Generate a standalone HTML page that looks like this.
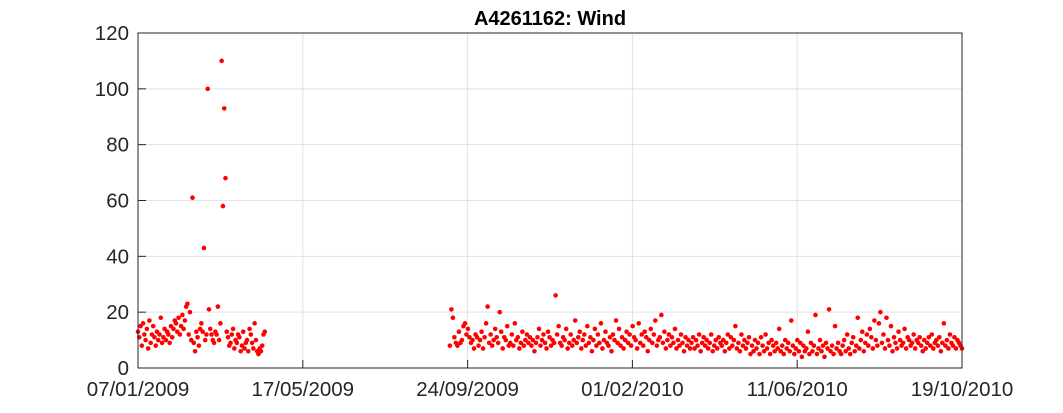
<!DOCTYPE html>
<html><head><meta charset="utf-8"><style>
body{margin:0;background:#fff;width:1063px;height:413px;overflow:hidden}
svg{display:block;font-family:"Liberation Sans",sans-serif}
</style></head><body>
<svg id="chart" width="1063" height="413">
<g id="grid"></g><g id="pts"></g><g id="axes"></g>
</svg>
<script>
const seg1Start=0;
const seg1=[13,11,15,8,16,12,10,14,7,17,9,12,15,11,8,13,10,12,18,9,11,14,10,13,12,9,15,11,14,17,16,13,18,12,15,19,14,17,22,23,12,20,10,61,9,6,13,11,8,14,16,13,43,10,12,100,21,14,12,10,9,13,12,22,10,16,110,58,93,68,13,11,8,9,12,14,7,10,9,12,11,6,8,13,7,9,10,6,14,12,9,7,16,10,6,5,7,6,8,12,13];
const seg2Start=246, seg2End=650;
const seg2=[8,21,18,11,9,8,13,9,10,15,16,12,14,11,9,10,7,12,11,8,
10,13,7,11,16,22,9,12,8,10,14,11,9,20,13,7,11,10,15,8,
9,12,8,16,10,11,7,9,13,8,10,12,9,11,8,10,6,9,11,14,
8,10,12,9,7,13,11,8,10,9,26,12,15,9,8,11,10,14,7,9,
12,8,10,17,9,11,13,7,10,12,8,15,9,11,6,10,14,8,12,9,
16,7,10,13,9,8,11,6,12,10,17,9,14,8,11,7,10,13,9,12,
8,15,11,10,7,16,9,12,8,13,11,6,10,14,9,12,17,8,10,11,
19,9,13,7,10,12,8,11,9,14,7,10,8,12,9,6,11,8,10,7,
9,11,7,10,8,12,6,9,11,8,10,7,9,12,6,8,10,7,11,9,
8,10,6,9,12,7,11,8,10,15,7,9,6,12,8,10,7,9,11,5,
8,6,10,7,9,5,11,8,6,12,7,9,5,10,8,6,9,7,14,6,
8,5,10,7,9,6,17,8,5,7,10,6,9,4,8,6,7,13,5,9,
6,8,19,5,7,10,6,8,4,9,7,21,6,8,5,15,7,9,6,5,
8,10,6,12,7,5,9,11,6,8,18,7,10,13,6,9,12,8,14,11,
7,17,10,8,16,20,9,12,7,18,10,8,15,6,11,9,7,13,10,8,
9,14,7,11,10,8,9,12,7,10,9,11,8,6,10,7,9,11,8,12,
7,9,10,8,11,6,9,16,8,10,7,12,9,8,11,7,10,9,8,7];
const yTicks=[0,20,40,60,80,100,120];
const xTickDays=[0,130,260,390,520,650];
const xTickLabels=["07/01/2009","17/05/2009","24/09/2009","01/02/2010","11/06/2010","19/10/2010"];
const L=138,R=962,T=33,B=368,D0=0,D1=650,Y1=120;
const X=d=>L+(d-D0)/(D1-D0)*(R-L);
const Y=v=>B-v/Y1*(B-T);
const NS="http://www.w3.org/2000/svg";
function mk(tag,at,parent){const e=document.createElementNS(NS,tag);for(const k in at)e.setAttribute(k,at[k]);parent.appendChild(e);return e;}
const g=document.getElementById('grid'),p=document.getElementById('pts'),a=document.getElementById('axes');
yTicks.forEach(v=>{
 const l=mk('line',{x1:L,x2:R,y1:Y(v),y2:Y(v),stroke:'#e2e2e2','stroke-width':1},g);
 
 
 const t=mk('text',{x:L-9,y:Y(v)+7,'text-anchor':'end','font-size':20.5,fill:'#262626'},a);
 t.textContent=v;
 
 
 mk('line',{x1:L,x2:L+8,y1:Y(v),y2:Y(v),stroke:'#262626'},a);
});
xTickDays.forEach((d,i)=>{
 const l=mk('line',{x1:X(d),x2:X(d),y1:T,y2:B,stroke:'#e2e2e2','stroke-width':1},g);
 
 
 const t=mk('text',{x:X(d),y:B+28,'text-anchor':'middle','font-size':20.5,fill:'#262626'},a);
 t.textContent=xTickLabels[i];
 
 
 mk('line',{x1:X(d),x2:X(d),y1:B,y2:B-8,stroke:'#262626'},a);
});
const box=mk('rect',{x:L,y:T,width:R-L,height:B-T,fill:'none',stroke:'#262626','stroke-width':1},a);


const title=mk('text',{x:(L+R)/2,y:25,'text-anchor':'middle','font-size':20,'font-weight':'bold',fill:'#000'},a);
title.textContent='A4261162: Wind';


seg1.forEach((v,i)=>{
 const c=mk('circle',{cx:X(seg1Start+i),cy:Y(v),r:2.3,fill:'#ff0000'},p);
 
 
});
const step=(seg2End-seg2Start)/(seg2.length-1);
seg2.forEach((v,i)=>{
 const c=mk('circle',{cx:X(seg2Start+i*step),cy:Y(v),r:2.3,fill:'#ff0000'},p);
 
 
});
</script>
</body></html>
